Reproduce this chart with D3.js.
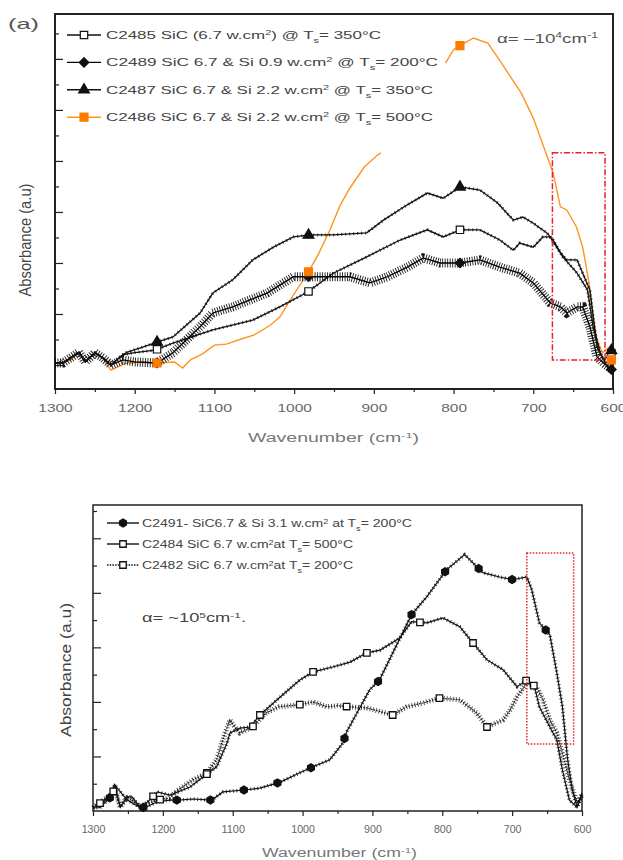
<!DOCTYPE html>
<html>
<head>
<meta charset="utf-8">
<script src="https://cdn.jsdelivr.net/npm/d3@7"></script>
<style>
  body { margin: 0; background: #fff; }
  svg { font-family: "Liberation Sans", Arial, sans-serif; }
</style>
</head>
<body>
<div id="wrapper"></div>
<script>
// ---- data: [wavenumber (cm-1), absorbance (a.u.)] ----
// panel (a)
var c2485 = [[1300,0.04],[1290,0.04],[1270,0.25],[1262,0.06],[1250,0.24],[1240,0.14],[1230,0.00],[1215,0.20],[1202,0.24],[1175,0.29],[1152,0.43],[1102,0.69],[1052,0.88],[1018,1.14],[983,1.43],[951,1.80],[909,2.12],[867,2.45],[833,2.65],[813,2.51],[792,2.65],[767,2.65],[742,2.45],[725,2.25],[717,2.39],[700,2.31],[688,2.51],[679,2.51],[666,2.20],[658,2.06],[645,2.06],[638,1.80],[629,1.47],[620,0.35],[612,0.10],[601,0.24]];
var c2489 = [[1300,0.04],[1290,0.04],[1270,0.25],[1262,0.06],[1250,0.24],[1240,0.14],[1230,0.00],[1215,0.10],[1200,0.06],[1172,0.04],[1152,0.24],[1118,0.75],[1102,1.02],[1077,1.14],[1034,1.41],[1001,1.73],[980,1.73],[951,1.73],[930,1.73],[905,1.61],[883,1.73],[858,1.92],[838,2.10],[817,2.00],[792,2.00],[767,2.06],[742,1.92],[717,1.80],[700,1.61],[679,1.22],[666,1.14],[658,1.02],[645,1.14],[638,1.14],[629,0.75],[620,0.16],[612,0.04],[601,-0.10]];
var c2487 = [[1300,0.04],[1290,0.04],[1270,0.25],[1262,0.06],[1250,0.24],[1240,0.14],[1230,0.00],[1215,0.20],[1210,0.25],[1190,0.35],[1172,0.45],[1152,0.55],[1118,1.02],[1102,1.41],[1077,1.67],[1052,2.06],[1026,2.31],[1001,2.51],[980,2.55],[951,2.55],[909,2.59],[888,2.84],[858,3.14],[833,3.37],[813,3.27],[792,3.49],[767,3.43],[745,3.18],[725,2.84],[713,2.90],[700,2.78],[683,2.59],[675,2.45],[663,2.12],[645,1.80],[632,1.47],[625,0.75],[616,0.24],[607,-0.04],[601,0.35]];
var c2486 = [[1300,0.04],[1290,0.06],[1280,0.10],[1270,0.25],[1262,0.06],[1250,0.25],[1240,0.14],[1230,-0.10],[1210,0.04],[1190,0.06],[1172,0.04],[1150,0.06],[1140,-0.06],[1130,0.10],[1115,0.22],[1100,0.39],[1085,0.41],[1070,0.49],[1050,0.59],[1030,0.78],[1018,0.94],[1005,1.27],[983,1.80],[970,2.16],[955,2.65],[942,3.14],[930,3.47],[912,3.88],[895,4.12],[891,4.16],[850,null],[810,5.92],[800,6.18],[791,6.27],[775,6.41],[757,6.31],[740,5.92],[715,5.33],[700,4.84],[690,4.41],[675,3.76],[666,3.10],[658,3.04],[646,2.71],[638,2.31],[630,1.61],[625,0.94],[620,0.49],[613,0.24],[605,0.35],[602,0.10]];
var markersA = [1172, 982, 792, 602];

// panel (b)
var c2491 = [[1300,0.06],[1290,0.06],[1276,0.24],[1269,0.48],[1261,0.07],[1251,0.26],[1244,0.26],[1233,0.07],[1226,0.06],[1208,0.17],[1190,0.20],[1178,0.20],[1157,0.22],[1130,0.20],[1114,0.35],[1080,0.39],[1061,0.42],[1032,0.53],[1004,0.70],[985,0.81],[961,0.94],[942,1.25],[937,1.45],[922,1.80],[904,2.22],[890,2.40],[844,3.60],[822,3.93],[794,4.42],[768,4.70],[742,4.37],[718,4.29],[699,4.24],[679,4.29],[672,4.06],[661,3.45],[646,3.23],[636,2.53],[628,1.91],[621,0.99],[614,0.39],[607,0.07],[600,0.33]];
var c2484 = [[1300,0.06],[1276,0.26],[1269,0.48],[1251,0.20],[1233,0.07],[1223,0.15],[1208,0.35],[1190,0.29],[1161,0.44],[1143,0.62],[1123,0.81],[1108,1.25],[1104,1.43],[1090,1.52],[1075,1.54],[1061,1.76],[1032,2.09],[1004,2.40],[985,2.55],[957,2.64],[932,2.73],[908,2.90],[889,2.95],[861,3.17],[844,3.47],[822,3.45],[799,3.54],[775,3.38],[756,3.08],[736,2.77],[713,2.59],[693,2.28],[679,2.40],[668,2.28],[661,1.91],[646,1.54],[636,1.30],[628,0.75],[618,0.20],[607,0.07],[600,0.29]];
var c2482 = [[1300,0.06],[1276,0.29],[1269,0.39],[1261,0.07],[1251,0.26],[1233,0.09],[1208,0.20],[1190,0.24],[1180,0.37],[1157,0.57],[1137,0.70],[1123,0.94],[1111,1.43],[1104,1.67],[1097,1.54],[1090,1.43],[1072,1.54],[1052,1.80],[1034,1.91],[1004,1.95],[985,2.00],[965,1.91],[950,1.93],[932,1.91],[908,1.89],[871,1.76],[851,1.91],[828,1.98],[804,2.07],[775,2.04],[751,1.80],[736,1.54],[713,1.67],[703,1.85],[693,2.09],[679,2.35],[665,2.28],[656,2.04],[646,1.67],[636,1.43],[628,1.06],[618,0.57],[607,0.15],[600,0.29]];
var markers2491 = [1276,1228,1180,1132,1084,1036,988,940,892,844,796,748,700,652];
var markers2484 = [1290,1214,1137,1061,985,908,832,756,680];
var markers2482 = [1271,1204,1137,1071,1004,937,871,804,736,669];

var majorTicks = [1300,1200,1100,1000,900,800,700,600];
var minorTicks = [1250,1150,1050,950,850,750,650];

// red boxes [wn from, wn to, abs low, abs high]
var boxA = [676, 610, 0.10, 4.16];
var boxB = [679, 612, 1.23, 4.73];

var svg = d3.select("#wrapper")
  .append("svg")
  .attr("width", 623)
  .attr("height", 860);

// hexagon marker (Origin style filled hexagon)
var symbolHex = {
  draw: function (ctx, size) {
    var r = Math.sqrt(size / 2.6);
    for (var i = 0; i < 6; i++) {
      var a = Math.PI / 6 + i * Math.PI / 3;
      if (i === 0) ctx.moveTo(r * Math.cos(a), r * Math.sin(a));
      else ctx.lineTo(r * Math.cos(a), r * Math.sin(a));
    }
    ctx.closePath();
  }
};

// value of a series at a wavenumber (for marker placement)
function valueAt(series, w) {
  for (var i = 0; i < series.length - 1; i++) {
    var a = series[i], b = series[i + 1];
    if (a[1] == null || b[1] == null) continue;
    if (w <= a[0] && w >= b[0]) {
      var t = (a[0] - w) / (a[0] - b[0]);
      return a[1] + t * (b[1] - a[1]);
    }
  }
  return null;
}

// text with sup / sub parts, stretched to a width
function richText(g, x, y, parts, size, width, fill) {
  var t = g.append("text")
    .attr("x", x)
    .attr("y", y)
    .style("font-size", size + "px")
    .attr("fill", fill || "#444");
  parts.forEach(function (p) {
    var s = t.append("tspan").text(p[0]);
    if (p[1] === "sup") s.attr("baseline-shift", "super").style("font-size", (size * 0.65) + "px");
    if (p[1] === "sub") s.attr("baseline-shift", "sub").style("font-size", (size * 0.65) + "px");
  });
  if (width) t.attr("textLength", width).attr("lengthAdjust", "spacingAndGlyphs");
  return t;
}

function drawAxes(x, y, opt) {
  var g = svg.append("g");
  var bottom = y.range()[0], top = y.range()[1];
  var left = x.range()[0], right = x.range()[1];

  // x axis ticks
  var ax = g.append("g")
    .attr("transform", "translate(0," + bottom + ")")
    .call(d3.axisBottom(x).tickValues(majorTicks).tickSize(5).tickPadding(opt.pad).tickFormat(d3.format("d")));
  ax.select(".domain").remove();
  ax.selectAll("text")
    .style("font-size", opt.tickFont + "px")
    .attr("fill", "#666")
    .attr("textLength", function (d) { return String(d).length * opt.digitW; })
    .attr("lengthAdjust", "spacingAndGlyphs");
  var axm = g.append("g")
    .attr("transform", "translate(0," + bottom + ")")
    .call(d3.axisBottom(x).tickValues(minorTicks).tickSize(3).tickFormat(""));
  axm.select(".domain").remove();

  // y axis, ticks pointing inside, no labels
  var ay = g.append("g")
    .attr("transform", "translate(" + left + ",0)")
    .call(d3.axisLeft(y).tickValues(opt.yMajor).tickSize(-8).tickFormat(""));
  ay.select(".domain").remove();
  var aym = g.append("g")
    .attr("transform", "translate(" + left + ",0)")
    .call(d3.axisLeft(y).tickValues(opt.yMinor).tickSize(-4).tickFormat(""));
  aym.select(".domain").remove();
  g.selectAll(".tick line").attr("stroke", "#222").attr("stroke-width", 1.2);

  // frame
  g.append("rect")
    .attr("x", left).attr("y", top)
    .attr("width", right - left).attr("height", bottom - top)
    .attr("fill", "none")
    .attr("stroke", "#222")
    .attr("stroke-width", opt.frameW);
}

function drawSeries(x, y, data, st) {
  var line = d3.line()
    .defined(function (d) { return d[1] != null; })
    .x(function (d) { return x(d[0]); })
    .y(function (d) { return y(d[1]); });
  if (st.hatch) {
    svg.append("path")
      .datum(data)
      .attr("d", line)
      .attr("fill", "none")
      .attr("stroke", st.color)
      .attr("stroke-width", st.hatch[0])
      .attr("stroke-dasharray", st.hatch[1])
      .attr("opacity", st.hatch[2]);
  }
  svg.append("path")
    .datum(data)
    .attr("d", line)
    .attr("fill", "none")
    .attr("stroke", st.color)
    .attr("stroke-width", st.width)
    .attr("stroke-dasharray", st.dash || null);
}

function drawMarkers(x, y, data, wns, st) {
  var sym = d3.symbol().type(st.type).size(st.size);
  svg.append("g")
    .selectAll("path")
    .data(wns.map(function (w) { return [w, valueAt(data, w)]; }).filter(function (d) { return d[1] != null; }))
    .enter()
    .append("path")
    .attr("d", sym)
    .attr("transform", function (d) {
      return "translate(" + x(d[0]) + "," + y(d[1]) + ")" + (st.rot ? " rotate(45)" : "");
    })
    .attr("fill", st.fill)
    .attr("stroke", st.stroke)
    .attr("stroke-width", st.sw || 1.2);
}

function legendRow(g, x0, x1, yy, st, mk) {
  g.append("line")
    .attr("x1", x0).attr("x2", x1).attr("y1", yy).attr("y2", yy)
    .attr("stroke", st.color).attr("stroke-width", 1.4)
    .attr("stroke-dasharray", st.dash || null);
  g.append("path")
    .attr("d", d3.symbol().type(mk.type).size(mk.size))
    .attr("transform", "translate(" + (x0 + x1) / 2 + "," + yy + ")" + (mk.rot ? " rotate(45)" : ""))
    .attr("fill", mk.fill).attr("stroke", mk.stroke).attr("stroke-width", mk.sw || 1.2);
}

// ================= panel (a) =================
var xA = d3.scaleLinear().domain([1300, 600]).range([55, 613]);
var yA = d3.scaleLinear().domain([-0.47, 6.88]).range([389, 14]);

var stA = {
  c2485: { color: "#111", width: 1.3, hatch: [3, "1 3", 0.8] },
  c2489: { color: "#000", width: 1.3, hatch: [9, "0.9 1.6", 0.9] },
  c2487: { color: "#111", width: 1.3, hatch: [3, "1 3", 0.8] },
  c2486: { color: "#ff9420", width: 1.4 }
};
var mkA = {
  c2485: { type: d3.symbolSquare, size: 55, fill: "#fff", stroke: "#111" },
  c2489: { type: d3.symbolSquare, size: 45, fill: "#111", stroke: "#111", rot: true },
  c2487: { type: d3.symbolTriangle, size: 50, fill: "#111", stroke: "#111" },
  c2486: { type: d3.symbolSquare, size: 64, fill: "#ff7a00", stroke: "#ff7a00" }
};

drawAxes(xA, yA, {
  pad: 10, tickFont: 11, digitW: 8.6, frameW: 2,
  yMajor: [0, 1, 2, 3, 4, 5, 6], yMinor: [0.5, 1.5, 2.5, 3.5, 4.5, 5.5, 6.5]
});

drawSeries(xA, yA, c2486, stA.c2486);
drawSeries(xA, yA, c2485, stA.c2485);
drawSeries(xA, yA, c2489, stA.c2489);
drawSeries(xA, yA, c2487, stA.c2487);
drawMarkers(xA, yA, c2485, markersA, mkA.c2485);
drawMarkers(xA, yA, c2489, markersA, mkA.c2489);
drawMarkers(xA, yA, c2487, markersA, mkA.c2487);
drawMarkers(xA, yA, c2486, markersA, mkA.c2486);

svg.append("rect")
  .attr("x", xA(boxA[0])).attr("y", yA(boxA[3]))
  .attr("width", xA(boxA[1]) - xA(boxA[0]))
  .attr("height", yA(boxA[2]) - yA(boxA[3]))
  .attr("fill", "none")
  .attr("stroke", "#e8202a")
  .attr("stroke-width", 1.5)
  .attr("stroke-dasharray", "6 2 1.5 2");

var legA = svg.append("g");
var rowsA = [
  ["c2485", [["C2485 SiC (6.7 w.cm"], ["2", "sup"], [") @ T"], ["s", "sub"], ["= 350°C"]], 275],
  ["c2489", [["C2489  SiC 6.7 & Si 0.9 w.cm"], ["2", "sup"], [" @ T"], ["s", "sub"], ["= 200°C"]], 332],
  ["c2487", [["C2487 SiC 6.7 & Si 2.2 w.cm"], ["2", "sup"], [" @ T"], ["s", "sub"], ["= 350°C"]], 327],
  ["c2486", [["C2486 SiC 6.7 & Si 2.2 w.cm"], ["2", "sup"], [" @ T"], ["s", "sub"], ["= 500°C"]], 327]
];
rowsA.forEach(function (r, i) {
  var yy = 35 + i * 27.4;
  legendRow(legA, 67, 101, yy, stA[r[0]], mkA[r[0]]);
  richText(legA, 106, yy + 4, r[1], 11, r[2], "#444");
});

richText(svg, 497, 43, [["α= –10"], ["4", "sup"], ["cm"], ["-1", "sup"]], 13, 101, "#555");
richText(svg, 8, 29, [["(a)"]], 15, 31, "#555");

svg.append("text")
  .attr("transform", "translate(31,240) rotate(-90)")
  .attr("text-anchor", "middle")
  .style("font-size", "16px")
  .attr("fill", "#444")
  .attr("textLength", 113)
  .attr("lengthAdjust", "spacingAndGlyphs")
  .text("Absorbance (a.u)");

richText(svg, 248, 442, [["Wavenumber (cm"], ["-1", "sup"], [")"]], 12, 171, "#777");

// ================= panel (b) =================
var xB = d3.scaleLinear().domain([1300, 600]).range([93, 582]);
var yB = d3.scaleLinear().domain([0, 5.61]).range([811, 505]);

var stB = {
  c2491: { color: "#111", width: 1.2, hatch: [3.5, "1 2.5", 0.8] },
  c2484: { color: "#111", width: 1.2, hatch: [3.5, "1 2.5", 0.8] },
  c2482: { color: "#111", width: 1.2, dash: "1.5 1.2", hatch: [5, "1 2", 0.7] }
};
var mkB = {
  c2491: { type: symbolHex, size: 42, fill: "#111", stroke: "#111" },
  c2484: { type: d3.symbolSquare, size: 42, fill: "#fff", stroke: "#111", sw: 1.3 },
  c2482: { type: d3.symbolSquare, size: 42, fill: "#fff", stroke: "#111", sw: 1.3 }
};

drawAxes(xB, yB, {
  pad: 10, tickFont: 10, digitW: 5.9, frameW: 1.5,
  yMajor: [1, 2, 3, 4, 5], yMinor: [0.5, 1.5, 2.5, 3.5, 4.5, 5.5]
});

drawSeries(xB, yB, c2482, stB.c2482);
drawSeries(xB, yB, c2484, stB.c2484);
drawSeries(xB, yB, c2491, stB.c2491);
drawMarkers(xB, yB, c2482, markers2482, mkB.c2482);
drawMarkers(xB, yB, c2484, markers2484, mkB.c2484);
drawMarkers(xB, yB, c2491, markers2491, mkB.c2491);

svg.append("rect")
  .attr("x", xB(boxB[0])).attr("y", yB(boxB[3]))
  .attr("width", xB(boxB[1]) - xB(boxB[0]))
  .attr("height", yB(boxB[2]) - yB(boxB[3]))
  .attr("fill", "none")
  .attr("stroke", "#e8202a")
  .attr("stroke-width", 1.5)
  .attr("stroke-dasharray", "1.5 1.5");

var legB = svg.append("g");
var rowsB = [
  ["c2491", [["C2491- SiC6.7 & Si 3.1 w.cm"], ["2", "sup"], [" at T"], ["s", "sub"], ["= 200°C"]], 270],
  ["c2484", [["C2484 SiC 6.7 w.cm"], ["2", "sup"], ["at T"], ["s", "sub"], ["= 500°C"]], 211],
  ["c2482", [["C2482 SiC 6.7 w.cm"], ["2", "sup"], ["at T"], ["s", "sub"], ["= 200°C"]], 211]
];
rowsB.forEach(function (r, i) {
  var yy = 523 + i * 21;
  legendRow(legB, 107, 139, yy, stB[r[0]], mkB[r[0]]);
  richText(legB, 142, yy + 3.5, r[1], 10, r[2], "#444");
});

richText(svg, 142, 622, [["α= ~10"], ["5", "sup"], ["cm"], ["-1", "sup"], ["."]], 12, 104, "#444");

svg.append("text")
  .attr("transform", "translate(71,670) rotate(-90)")
  .attr("text-anchor", "middle")
  .style("font-size", "15px")
  .attr("fill", "#444")
  .attr("textLength", 134)
  .attr("lengthAdjust", "spacingAndGlyphs")
  .text("Absorbance (a.u)");

richText(svg, 262, 857, [["Wavenumber (cm"], ["-1", "sup"], [")"]], 12, 155, "#777");
</script>
</body>
</html>
